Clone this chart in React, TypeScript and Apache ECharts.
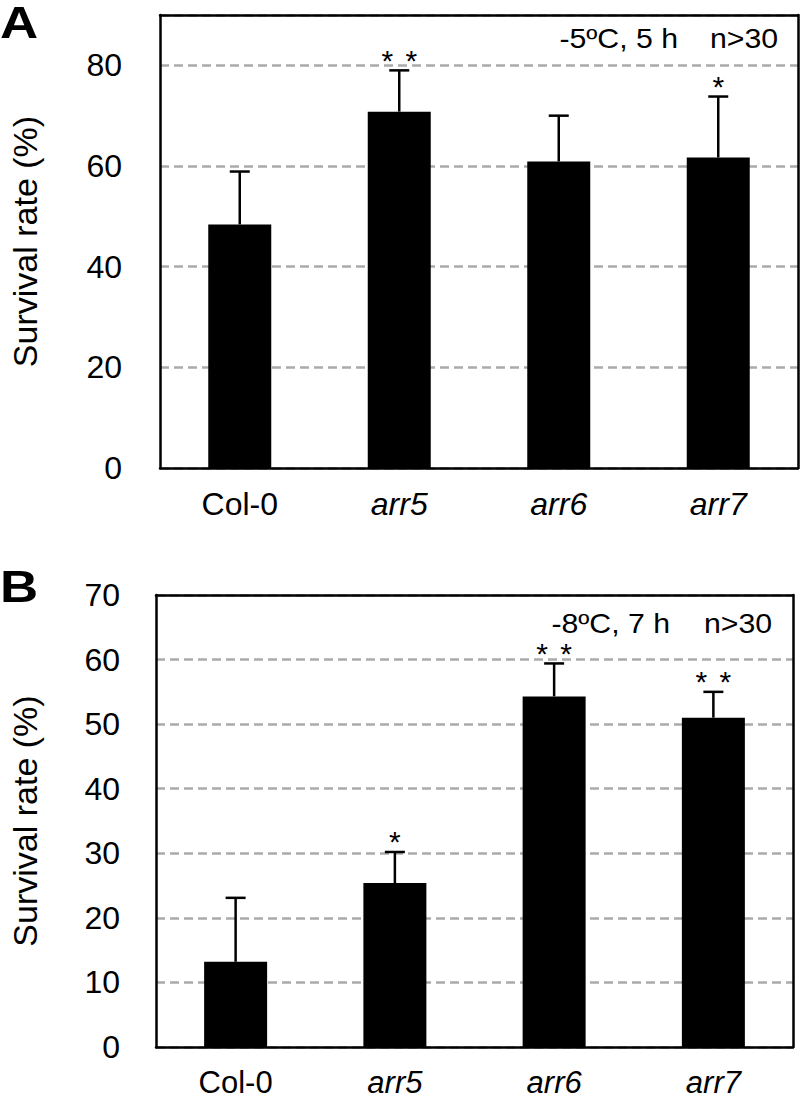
import React, { useEffect, useRef } from "react";
import * as echarts from "echarts";

const categories = ["Col-0", "arr5", "arr6", "arr7"];
const meanA = [48.4, 70.8, 60.9, 61.7];
const errA = [10.5, 8.2, 9.1, 12.1];
const starsA = [0, 2, 0, 1];
const meanB = [13.2, 25.4, 54.3, 51.0];
const errB = [9.9, 4.8, 5.1, 4.0];
const starsB = [0, 1, 2, 2];
const yMaxA = 90;
const yIntA = 20;
const yMaxB = 70;
const yIntB = 10;
const yName = "Survival rate (%)";
const noteA = ["-5ºC, 5 h", "n>30"];
const noteB = ["-8ºC, 7 h", "n>30"];

const FONT = "'Liberation Sans', Arial, Helvetica, sans-serif";

function errorSeries(mean: number[], err: number[], stars: number[], xi: number, yi: number) {
  return {
    type: "custom",
    xAxisIndex: xi,
    yAxisIndex: yi,
    z: 5,
    clip: false,
    data: mean.map((m, i) => [i, m + err[i], m, stars[i]]),
    renderItem: (params: any, api: any) => {
      const idx = api.value(0);
      const top = api.coord([idx, api.value(1)]);
      const base = api.coord([idx, api.value(2)]);
      const n = api.value(3);
      const children: any[] = [
        { type: "line", shape: { x1: top[0], y1: base[1], x2: top[0], y2: top[1] }, style: { stroke: "#000", lineWidth: 2.5 } },
        { type: "line", shape: { x1: top[0] - 10, y1: top[1], x2: top[0] + 10, y2: top[1] }, style: { stroke: "#000", lineWidth: 2.5 } },
      ];
      for (let k = 0; k < n; k++) {
        children.push({
          type: "text",
          x: top[0] + (k - (n - 1) / 2) * 24,
          y: top[1] - 10,
          style: { text: "*", fill: "#000", font: `30px ${FONT}`, textAlign: "center", textVerticalAlign: "middle" },
        });
      }
      return { type: "group", children };
    },
  };
}

function xAxes(gridIndex: number, margin: number, fontSize: number) {
  return [
    {
      type: "category",
      gridIndex,
      data: categories,
      position: "bottom",
      axisLine: { show: true, onZero: false, lineStyle: { color: "#000", width: 2.5 } },
      axisTick: { show: false },
      axisLabel: {
        margin,
        color: "#000",
        fontSize,
        fontFamily: FONT,
        formatter: (v: string) => (v === "Col-0" ? v : `{i|${v}}`),
        rich: { i: { fontStyle: "italic", fontSize, fontFamily: FONT, color: "#000" } },
      },
      splitLine: { show: false },
    },
    {
      type: "category",
      gridIndex,
      data: categories,
      position: "top",
      axisLine: { show: true, onZero: false, lineStyle: { color: "#000", width: 2.5 } },
      axisTick: { show: false },
      axisLabel: { show: false },
      splitLine: { show: false },
    },
  ];
}

function yAxes(gridIndex: number, max: number, interval: number, margin: number, showMax: boolean, nameGap: number) {
  return [
    {
      type: "value",
      gridIndex,
      min: 0,
      max,
      interval,
      position: "left",
      name: yName,
      nameLocation: "middle",
      nameGap,
      nameTextStyle: { fontSize: 34, fontFamily: FONT, color: "#000" },
      axisLine: { show: true, onZero: false, lineStyle: { color: "#000", width: 2.5 } },
      axisTick: { show: false },
      axisLabel: { margin, color: "#000", fontSize: 32, fontFamily: FONT, showMaxLabel: showMax },
      splitLine: { show: true, lineStyle: { color: "#aaaaaa", width: 2.5, type: [9, 5] } },
    },
    {
      type: "value",
      gridIndex,
      min: 0,
      max,
      interval,
      position: "right",
      axisLine: { show: true, onZero: false, lineStyle: { color: "#000", width: 2.5 } },
      axisTick: { show: false },
      axisLabel: { show: false },
      splitLine: { show: false },
    },
  ];
}

export default function App() {
  const ref = useRef<HTMLDivElement>(null);
  useEffect(() => {
    document.body.style.margin = "0";
    if (!ref.current) return;
    const chart = echarts.init(ref.current, undefined, { renderer: "svg" });
    chart.setOption({
      animation: false,
      backgroundColor: "#fff",
      textStyle: { fontFamily: FONT },
      grid: [
        { left: 158, top: 15, width: 640, height: 453 },
        { left: 154, top: 595, width: 639, height: 452 },
      ],
      xAxis: [...xAxes(0, 20, 32), ...xAxes(1, 20, 31)],
      yAxis: [...yAxes(0, yMaxA, yIntA, 38, false, 118), ...yAxes(1, yMaxB, yIntB, 36, true, 114)],
      series: [
        { type: "bar", xAxisIndex: 0, yAxisIndex: 0, data: meanA, barWidth: 63, itemStyle: { color: "#000" }, z: 3 },
        errorSeries(meanA, errA, starsA, 0, 0),
        { type: "bar", xAxisIndex: 2, yAxisIndex: 2, data: meanB, barWidth: 63, itemStyle: { color: "#000" }, z: 3 },
        errorSeries(meanB, errB, starsB, 2, 2),
      ],
      graphic: [
        { type: "text", x: 0, y: 23, scaleX: 1.2, style: { text: "A", font: `bold 44px ${FONT}`, fill: "#000", textAlign: "left", textVerticalAlign: "middle" } },
        { type: "text", x: 0, y: 587, scaleX: 1.2, style: { text: "B", font: `bold 44px ${FONT}`, fill: "#000", textAlign: "left", textVerticalAlign: "middle" } },
        { type: "text", x: 678, y: 38, scaleX: 1.08, style: { text: noteA[0], font: `28px ${FONT}`, fill: "#000", textAlign: "right", textVerticalAlign: "middle" } },
        { type: "text", x: 778, y: 38, scaleX: 1.08, style: { text: noteA[1], font: `28px ${FONT}`, fill: "#000", textAlign: "right", textVerticalAlign: "middle" } },
        { type: "text", x: 670, y: 623, scaleX: 1.08, style: { text: noteB[0], font: `28px ${FONT}`, fill: "#000", textAlign: "right", textVerticalAlign: "middle" } },
        { type: "text", x: 772, y: 623, scaleX: 1.08, style: { text: noteB[1], font: `28px ${FONT}`, fill: "#000", textAlign: "right", textVerticalAlign: "middle" } },
      ],
    });
    return () => chart.dispose();
  }, []);
  return <div ref={ref} style={{ width: 800, height: 1101 }} />;
}
